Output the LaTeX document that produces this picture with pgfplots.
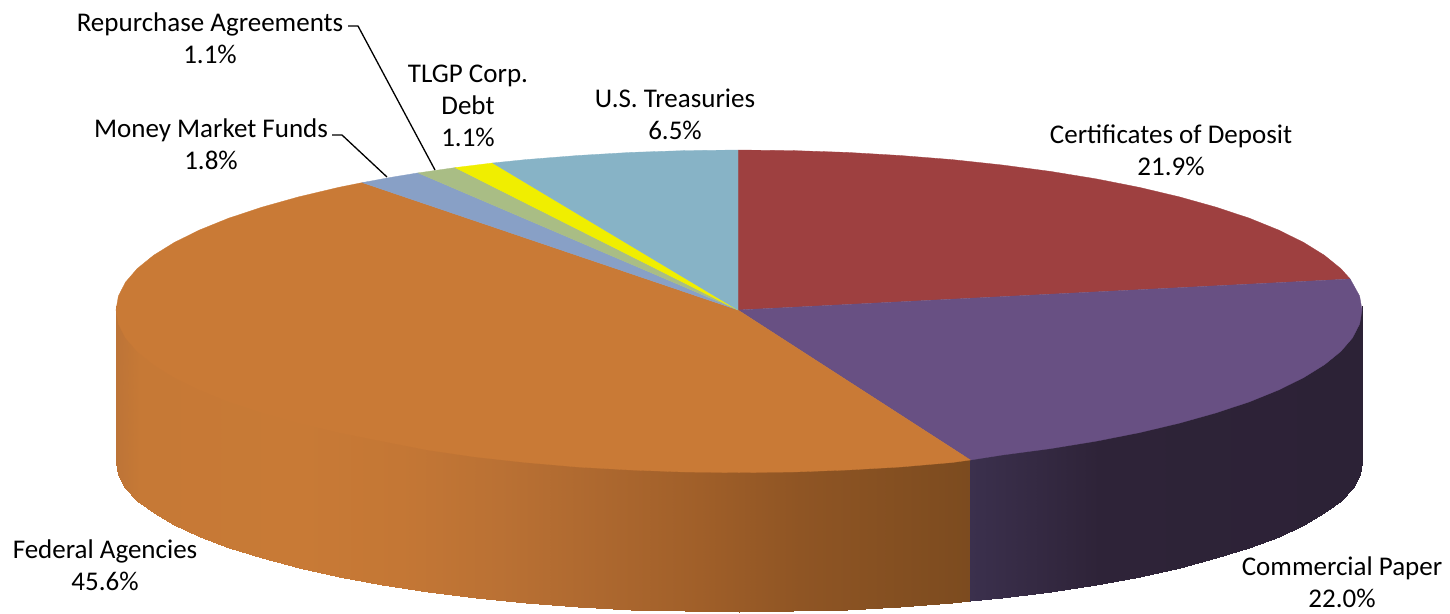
\documentclass[border=0pt]{standalone}
\usepackage{fontspec}
\setmainfont{Carlito}
\usepackage{pgfplots}
\pgfplotsset{compat=1.18}

\definecolor{cdred}{RGB}{158,64,64}
\definecolor{cppurple}{RGB}{104,80,131}
\definecolor{faorange}{RGB}{201,122,54}
\definecolor{mmblue}{RGB}{136,160,198}
\definecolor{rpgreen}{RGB}{169,189,133}
\definecolor{tlyellow}{RGB}{240,238,0}
\definecolor{ustteal}{RGB}{135,179,198}

\tikzset{lab/.style={font=\fontsize{27}{32}\selectfont, align=center, text=black, inner sep=0pt}}

% side wall: top and bottom edge per line, c follows x
% (top edge runs a little under the top face so that no gap shows)
\pgfplotstableread{
x y c
116 306 116
116 462 116
118.4 320 118
118.4 475.1 118
125.5 333.8 125
125.5 488 125
137.2 347.4 137
137.2 500.8 137
153.6 360.7 154
153.6 513.3 154
174.4 373.6 174
174.4 525.4 174
199.5 386 199
199.5 537 199
228.6 397.8 229
228.6 548 229
261.8 408.8 262
261.8 558.4 262
298.5 419.1 298
298.5 568.1 298
338.5 428.6 338
338.5 576.9 338
381.6 437.1 382
381.6 584.9 382
427.5 444.6 427
427.5 591.9 427
475.7 451 476
475.7 597.9 476
525.9 456.4 526
525.9 603 526
577.8 460.5 578
577.8 606.9 578
630.8 463.6 631
630.8 609.7 631
684.7 465.4 685
684.7 611.4 685
739 466 739
739 612 739
793.3 465.4 793
793.3 611.4 793
847.2 463.6 847
847.2 609.7 847
900.2 460.5 900
900.2 606.9 900
952.1 456.4 952
952.1 603 952
970.4 454.6 970
970.4 601.3 970
}\federalwall

\pgfplotstableread{
x y c
970.4 454.6 971
970.4 601.3 971
1002.3 451 1002
1002.3 597.9 1002
1050.5 444.6 1050
1050.5 591.9 1050
1096.4 437.1 1096
1096.4 584.9 1096
1139.5 428.6 1140
1139.5 576.9 1140
1179.5 419.1 1180
1179.5 568.1 1180
1216.2 408.8 1216
1216.2 558.4 1216
1249.4 397.8 1249
1249.4 548 1249
1278.5 386 1278
1278.5 537 1278
1303.6 373.6 1304
1303.6 525.4 1304
1324.4 360.7 1324
1324.4 513.3 1324
1340.8 347.4 1341
1340.8 500.8 1341
1352.5 333.8 1352
1352.5 488 1352
1359.6 320 1360
1359.6 475.1 1360
1362 306 1362
1362 462 1362
}\paperwall

\begin{document}
\begin{tikzpicture}
  \path[use as bounding box] (0,0) rectangle (1450pt,613pt);
  \begin{axis}[
    scale only axis,
    width=1450pt,
    height=613pt,
    xmin=0, xmax=1450,
    ymin=0, ymax=613,
    y dir=reverse,
    hide axis,
    clip=false,
    point meta min=116,
    point meta max=1362,
    colormap={wall}{
      rgb255(116)=(189,116,55)
      rgb255(140)=(198,121,54)
      rgb255(300)=(200,122,54)
      rgb255(400)=(196,119,53)
      rgb255(500)=(186,113,52)
      rgb255(600)=(173,104,47)
      rgb255(700)=(160,95,41)
      rgb255(800)=(143,85,36)
      rgb255(970)=(124,75,31)
      rgb255(971)=(59,48,77)
      rgb255(1100)=(46,35,56)
      rgb255(1362)=(44,34,54)
    },
  ]

    % walls
    \addplot[surf, shader=interp, mesh/cols=2, point meta=\thisrow{c}] table[x=x, y=y] {\federalwall};
    \addplot[surf, shader=interp, mesh/cols=2, point meta=\thisrow{c}] table[x=x, y=y] {\paperwall};

    % top face
    \addplot[fill=cdred, draw=cdred, line width=0.3pt] coordinates {
      (738,310) (738,150) (793.3,150.6) (847.2,152.4) (900.2,155.5) (952.1,159.6)
      (1002.3,165) (1050.5,171.4) (1096.4,178.9) (1139.5,187.4) (1179.5,196.9)
      (1216.2,207.2) (1249.4,218.2) (1278.5,230) (1303.6,242.4) (1324.4,255.3)
      (1340.8,268.6) (1350.2,279)
    } --cycle;
    \addplot[fill=cppurple, draw=cppurple, line width=0.3pt] coordinates {
      (738,310) (1350.2,279) (1359.6,296) (1362,310) (1359.6,324) (1352.5,337.8)
      (1340.8,351.4) (1324.4,364.7) (1303.6,377.6) (1278.5,390) (1249.4,401.8)
      (1216.2,412.8) (1179.5,423.1) (1139.5,432.6) (1096.4,441.1) (1050.5,448.6)
      (1002.3,455) (970.4,460)
    } --cycle;
    \addplot[fill=faorange, draw=faorange, line width=0.3pt] coordinates {
      (738,310) (970.4,460) (952.1,462.5) (900.2,467) (847.2,470) (793.3,472)
      (739,472.5) (684.7,472) (630.8,470) (577.8,467) (525.9,462.5) (475.7,457)
      (427.5,450) (381.6,441.1) (338.5,432.6) (298.5,423.1) (261.8,412.8)
      (228.6,401.8) (199.5,390) (174.4,377.6) (153.6,364.7) (137.2,351.4)
      (125.5,337.8) (118.4,324) (116,310) (118.4,296) (125.5,282.2) (137.2,268.6)
      (153.6,255.3) (174.4,242.4) (199.5,230) (228.6,218.2) (261.8,207.2)
      (298.5,196.9) (338.5,187.4) (362.3,182.6)
    } --cycle;
    \addplot[fill=mmblue, draw=mmblue, line width=0.3pt] coordinates {
      (738,310) (362.3,182.6) (390,177.5) (418,172.9)
    } --cycle;
    \addplot[fill=rpgreen, draw=rpgreen, line width=0.3pt] coordinates {
      (738,310) (418,172.9) (455.2,167.6)
    } --cycle;
    \addplot[fill=tlyellow, draw=tlyellow, line width=0.3pt] coordinates {
      (738,310) (455.2,167.6) (492.6,163)
    } --cycle;
    \addplot[fill=ustteal, draw=ustteal, line width=0.3pt] coordinates {
      (738,310) (492.6,163) (525.9,159.6) (577.8,155.5) (630.8,152.4) (684.7,150.6) (738,150)
    } --cycle;

    % leader lines
    \addplot[black, line width=1.3pt] coordinates {(348,26) (358,26) (435,170)};
    \addplot[black, line width=1.3pt] coordinates {(332,135) (342,135) (387,177)};

    % labels
    \node[lab] at (axis cs:210,38) {Repurchase Agreements\\1.1\%};
    \node[lab] at (axis cs:211,144) {Money Market Funds\\1.8\%};
    \node[lab] at (axis cs:468,106) {TLGP Corp.\\Debt\\1.1\%};
    \node[lab] at (axis cs:675,114) {U.S. Treasuries\\6.5\%};
    \node[lab] at (axis cs:1171,150) {Certificates of Deposit\\21.9\%};
    \node[lab] at (axis cs:1342,582) {Commercial Paper\\22.0\%};
    \node[lab] at (axis cs:105,565) {Federal Agencies\\45.6\%};
  \end{axis}
\end{tikzpicture}
\end{document}
